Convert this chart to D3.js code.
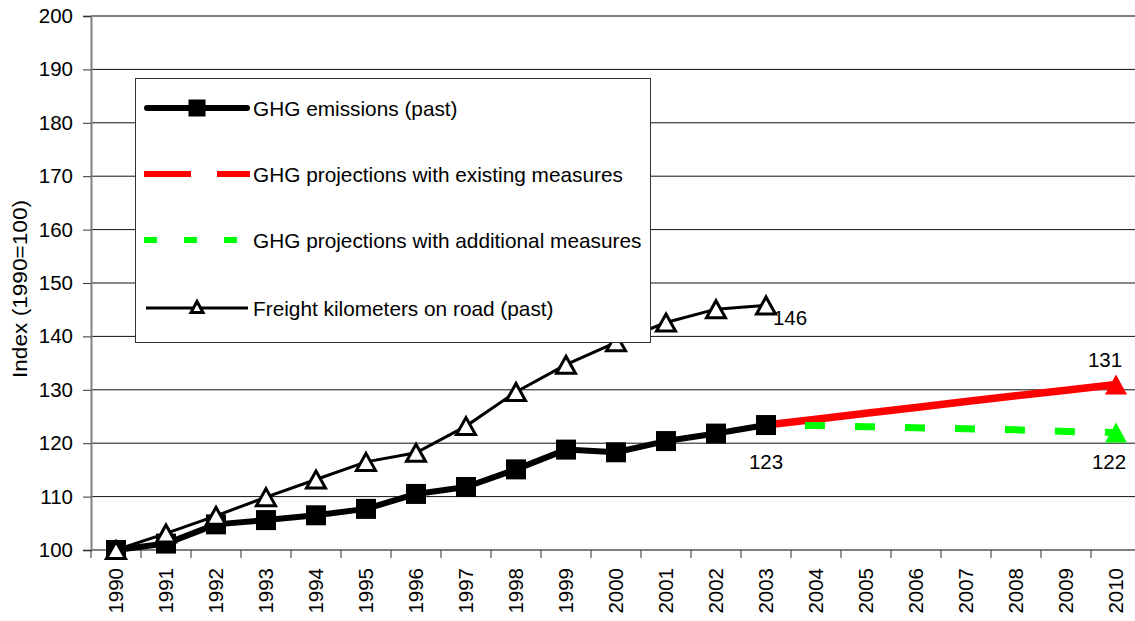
<!DOCTYPE html>
<html>
<head>
<meta charset="utf-8">
<script src="https://cdn.jsdelivr.net/npm/d3@7"></script>
<style>
  body { margin: 0; background: #fff; }
  svg { display: block; font-family: "Liberation Sans", Arial, sans-serif; }
</style>
</head>
<body>
<script>
var width = 1135;
var height = 621;

var years = ["1990","1991","1992","1993","1994","1995","1996","1997","1998","1999",
             "2000","2001","2002","2003","2004","2005","2006","2007","2008","2009","2010"];
var ghgPastYears = years.slice(0, 14);
var ghgPast = [100, 101.2, 104.8, 105.6, 106.5, 107.7, 110.5, 111.8, 115.1, 118.8, 118.3, 120.4, 121.8, 123.4];
var projYears = years.slice(13);
var projExisting = [123.4, 124.5, 125.6, 126.7, 127.8, 128.9, 129.9, 131];
var projAdditional = [123.4, 123.3, 123.1, 122.9, 122.7, 122.5, 122.2, 122];
var freightYears = years.slice(0, 14);
var freight = [100, 103.1, 106.4, 109.9, 113.2, 116.5, 118.2, 123.2, 129.6, 134.7, 138.9, 142.6, 145.1, 145.8];
var yTicks = [100, 110, 120, 130, 140, 150, 160, 170, 180, 190, 200];
var legendLabels = ["GHG emissions (past)", "GHG projections with existing measures",
                    "GHG projections with additional measures", "Freight kilometers on road (past)"];

var plotL = 91, plotR = 1141, plotT = 16, plotB = 550;

var svg = d3.select("body").append("svg")
    .attr("width", width)
    .attr("height", height);

var x = d3.scaleBand().domain(years).range([plotL, plotR]).paddingInner(0).paddingOuter(0);
var y = d3.scaleLinear().domain([100, 200]).range([plotB, plotT]);
function cx(d) { return x(d) + x.bandwidth() / 2; }

// gridlines
svg.selectAll(".grid")
    .data(yTicks.filter(function(d) { return d > 100 && d < 200; }))
    .enter().append("line")
    .attr("x1", plotL).attr("x2", plotR)
    .attr("y1", function(d) { return y(d); })
    .attr("y2", function(d) { return y(d); })
    .style("stroke", "#111").style("stroke-width", 1);

// top border
svg.append("line")
    .attr("x1", plotL).attr("x2", plotR)
    .attr("y1", y(200)).attr("y2", y(200))
    .style("stroke", "#808080").style("stroke-width", 2);

// y axis
var yAxis = svg.append("g")
    .attr("transform", "translate(" + plotL + ",0)")
    .call(d3.axisLeft(y).tickValues(yTicks).tickSize(8).tickPadding(10));
yAxis.select(".domain").style("stroke", "#808080").style("stroke-width", 2);
yAxis.selectAll(".tick line").style("stroke", "#333");
yAxis.attr("font-family", null).attr("font-size", null);
yAxis.selectAll("text").style("font-size", "20.5px").style("fill", "#000");

// x axis: labels at centres, ticks at category boundaries
var xAxis = svg.append("g")
    .attr("transform", "translate(0," + plotB + ")")
    .call(d3.axisBottom(x).tickSize(0).tickPadding(0));
xAxis.attr("font-family", null).attr("font-size", null);
xAxis.select(".domain").remove();
xAxis.selectAll("text")
    .style("font-size", "20.5px").style("fill", "#000")
    .attr("transform", "rotate(-90)")
    .attr("x", -18).attr("y", 0).attr("dy", "0.36em")
    .style("text-anchor", "end");
svg.append("line")
    .attr("x1", plotL).attr("x2", plotR)
    .attr("y1", plotB).attr("y2", plotB)
    .style("stroke", "#808080").style("stroke-width", 2);
svg.selectAll(".xtick")
    .data(years.concat(["end"]))
    .enter().append("line")
    .attr("x1", function(d, i) { return plotL + i * x.bandwidth(); })
    .attr("x2", function(d, i) { return plotL + i * x.bandwidth(); })
    .attr("y1", plotB).attr("y2", plotB + 8)
    .style("stroke", "#333").style("stroke-width", 1);

// y title
svg.append("text")
    .attr("transform", "translate(27,289) rotate(-90)")
    .attr("text-anchor", "middle")
    .attr("textLength", 178).attr("lengthAdjust", "spacingAndGlyphs")
    .style("font-size", "20px")
    .text("Index (1990=100)");

var line = d3.line().x(function(d) { return cx(d[0]); }).y(function(d) { return y(d[1]); });
function zip(a, b) { return a.map(function(d, i) { return [d, b[i]]; }); }

function triPath(w, h) {
    return "M0," + (-h / 2) + "L" + (w / 2) + "," + (h / 2) + "L" + (-w / 2) + "," + (h / 2) + "Z";
}

// projections
svg.append("path")
    .attr("d", line(zip(projYears, projExisting)))
    .style("fill", "none").style("stroke", "#ff0000").style("stroke-width", 7.5);
svg.append("path")
    .attr("d", line(zip(projYears, projAdditional)))
    .style("fill", "none").style("stroke", "#00ff00").style("stroke-width", 7)
    .style("stroke-dasharray", "20,30").style("stroke-dashoffset", 11);
svg.append("path")
    .attr("d", triPath(22, 20))
    .attr("transform", "translate(" + cx("2010") + "," + y(projExisting[7]) + ")")
    .style("fill", "#ff0000");
svg.append("path")
    .attr("d", triPath(22, 20))
    .attr("transform", "translate(" + cx("2010") + "," + y(projAdditional[7]) + ")")
    .style("fill", "#00ff00");

// ghg past
svg.append("path")
    .attr("d", line(zip(ghgPastYears, ghgPast)))
    .style("fill", "none").style("stroke", "#000").style("stroke-width", 6)
    .style("stroke-linejoin", "round");
svg.selectAll(".sq")
    .data(zip(ghgPastYears, ghgPast))
    .enter().append("rect")
    .attr("x", function(d) { return cx(d[0]) - 10; })
    .attr("y", function(d) { return y(d[1]) - 10; })
    .attr("width", 20).attr("height", 20)
    .style("fill", "#000");

// freight
svg.append("path")
    .attr("d", line(zip(freightYears, freight)))
    .style("fill", "none").style("stroke", "#000").style("stroke-width", 3);
svg.selectAll(".tri")
    .data(zip(freightYears, freight))
    .enter().append("path")
    .attr("d", triPath(19, 17))
    .attr("transform", function(d) { return "translate(" + cx(d[0]) + "," + y(d[1]) + ")"; })
    .style("fill", "#fff").style("stroke", "#000").style("stroke-width", 3)
    .style("stroke-linejoin", "miter");

// data labels
var labels = [
    {t: "146", yr: "2003", v: freight[13], dx: 24, dy: 20, a: "middle"},
    {t: "123", yr: "2003", v: ghgPast[13], dx: 0, dy: 44, a: "middle"},
    {t: "131", yr: "2010", v: projExisting[7], dx: -11, dy: -17, a: "middle"},
    {t: "122", yr: "2010", v: projAdditional[7], dx: -7, dy: 36, a: "middle"}
];
svg.selectAll(".dl")
    .data(labels)
    .enter().append("text")
    .attr("x", function(d) { return cx(d.yr) + d.dx; })
    .attr("y", function(d) { return y(d.v) + d.dy; })
    .attr("text-anchor", function(d) { return d.a; })
    .style("font-size", "20.5px")
    .text(function(d) { return d.t; });

// legend
var lg = svg.append("g");
lg.append("rect")
    .attr("x", 135.5).attr("y", 78.5).attr("width", 515).attr("height", 264)
    .style("fill", "#fff").style("stroke", "#333").style("stroke-width", 1);
var rows = [108, 174, 240, 308];
lg.append("line").attr("x1", 147).attr("x2", 247).attr("y1", rows[0]).attr("y2", rows[0])
    .style("stroke", "#000").style("stroke-width", 6).style("stroke-linecap", "round");
lg.append("rect").attr("x", 188.5).attr("y", rows[0] - 8.5).attr("width", 17).attr("height", 17)
    .style("fill", "#000");
lg.append("line").attr("x1", 144).attr("x2", 250).attr("y1", rows[1]).attr("y2", rows[1])
    .style("stroke", "#ff0000").style("stroke-width", 6).style("stroke-dasharray", "47,26");
lg.append("line").attr("x1", 144).attr("x2", 250).attr("y1", rows[2]).attr("y2", rows[2])
    .style("stroke", "#00ff00").style("stroke-width", 6).style("stroke-dasharray", "13,27");
lg.append("line").attr("x1", 146).attr("x2", 248).attr("y1", rows[3]).attr("y2", rows[3])
    .style("stroke", "#000").style("stroke-width", 3);
lg.append("path").attr("d", triPath(12, 11))
    .attr("transform", "translate(197," + (rows[3] - 1) + ")")
    .style("fill", "#fff").style("stroke", "#000").style("stroke-width", 3);
lg.selectAll(".lt")
    .data(legendLabels)
    .enter().append("text")
    .attr("x", 253)
    .attr("y", function(d, i) { return rows[i] + 8; })
    .style("font-size", "20.8px")
    .text(function(d) { return d; });
</script>
</body>
</html>
